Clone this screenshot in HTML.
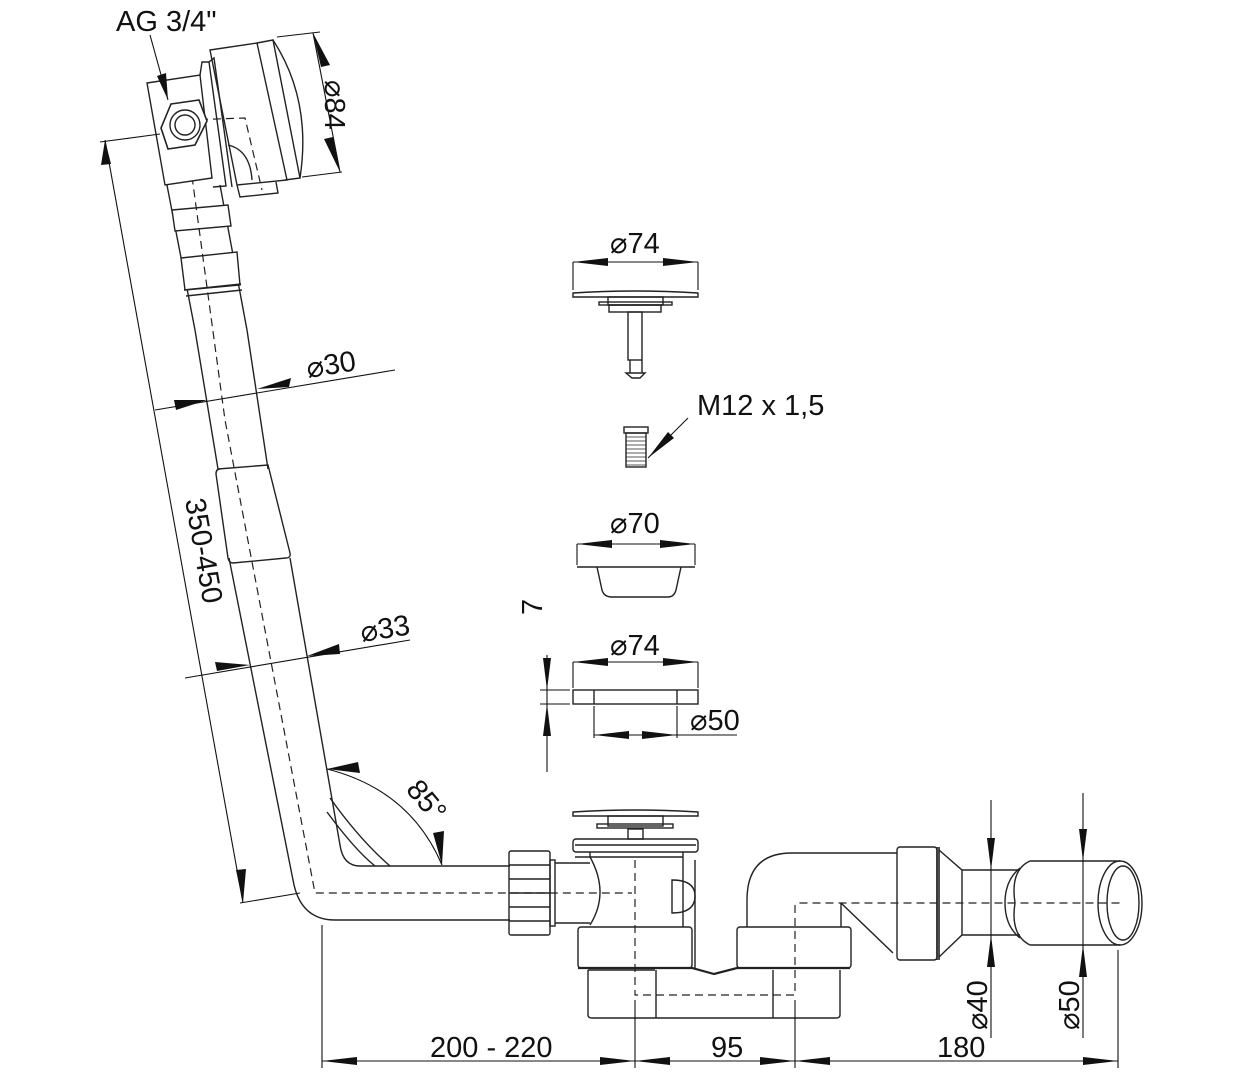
<!DOCTYPE html>
<html><head><meta charset="utf-8"><style>
html,body{margin:0;padding:0;background:#fff}
svg{display:block}
text{font-family:"Liberation Sans Narrow","Liberation Sans",sans-serif;fill:#111}
</style></head><body>
<svg width="1251" height="1077" viewBox="0 0 1251 1077" xmlns="http://www.w3.org/2000/svg">
<g fill="none" stroke="#222" stroke-width="1.4">
<!-- main pipe -->
<path d="M195,330 L166,180"/>
<path d="M247,330 L220,185"/>
<path d="M195,330 L218,469 M229,558 L293,880 Q300,920 335,920 L510,920"/>
<path d="M247,330 L268,469 M290,558 L340,845 Q343,866 360,866 L510,866"/>
<path d="M218,469 L268,465 L290,553 Q291,558 286,558 L233,563 Q229,563 228,558 L216,474 Q216,469 220,469 Z"/>
<!-- collars -->
<path d="M172,210 L228,205 L231,226 L175,231 Z" fill="#fff"/>
<path d="M181,258 L237,252 L240,285 L185,290 Z" fill="#fff"/>
<path d="M184,290 L241,284 M186,296 L242,290"/>
<!-- center dashed -->
<path d="M185,125 L225,420 L315,893 L632,893" stroke-dasharray="8,5" stroke-width="1.2"/>
<path d="M187,120 L245,118 L262,190" stroke-dasharray="8,5" stroke-width="1.2"/>
<!-- head -->
<path d="M147,83 L200,75 L212,178 L165,185 Z" fill="#fff"/>
<path d="M200,75 L202,62 L209,62 L226,186 L213,187"/>
<path d="M209,62 L214,58 L232,187"/>
<path d="M210,50 L257,43 L287,180 L237,185 Z"/>
<path d="M257,43 L273,40 L300,178 L285,180"/>
<path d="M273,40 Q312,100 300,178"/>
<path d="M237,185 L240,197 L278,193 L276,182"/>
<path d="M228,145 Q250,150 252,180"/>
<polygon points="171,104 199,100 207,121 195,145 168,149 161,128" stroke-width="1.6" fill="#fff"/>
<circle cx="185" cy="125" r="15"/>
<circle cx="185" cy="125" r="10"/>
<!-- 85 degree branch lines -->
<path d="M330,798 Q360,840 390,866 M327,812 Q355,850 375,866"/>
<!-- nut -->
<rect x="509" y="851" width="41" height="84" rx="2"/>
<path d="M509,865 H550 M509,879 H550 M509,893 H550 M509,907 H550 M509,921 H550"/>
<rect x="550" y="860" width="5" height="66"/>
<path d="M555,863 H590 M555,923 H590"/>
<!-- body -->
<path d="M573,812 Q635,808 698,812 L698,816 L573,816 Z"/>
<rect x="608" y="816" width="55" height="10"/>
<rect x="597" y="824" width="76" height="4"/>
<rect x="628" y="829" width="15" height="10"/>
<rect x="573" y="839" width="125" height="13" rx="3"/>
<path d="M575,845 H696"/>
<path d="M590,852 L590,857 Q610,893 590,925 M683,852 L683,927 M695,860 L695,968 M575,857 H683"/>
<path d="M672,880 Q695,880 695,896 Q695,913 672,913 Z"/>
<rect x="578" y="927" width="114" height="41" rx="3"/>
<path d="M578,968 L692,968 L714,974 L737,968 L850,968" stroke-width="2.2"/>
<path d="M588,970 H655 M588,970 L588,1015 Q588,1018 592,1018 L836,1018 Q840,1018 840,1015 L840,970 M656,970 V1018 M773,970 V1018"/>
<rect x="737" y="927" width="114" height="41" rx="3"/>
<path d="M747,927 L747,900 Q747,853 792,853 L897,853"/>
<path d="M841,903 L841,927 M841,903 L893,953"/>
<path d="M635,860 L635,995 L795,995 L795,906 Q795,903 800,903 L1120,903" stroke-dasharray="8,5" stroke-width="1.2"/>
<rect x="897" y="847" width="40" height="113" rx="3"/>
<path d="M937,847 L937,960 M939,847 L939,960" stroke-width="1.6"/>
<path d="M939,850 L962,870 L1020,870 M939,957 L962,935 L1020,935 M962,870 V935"/>
<path d="M1020,868 Q1005,880 1005,903 Q1005,926 1020,938"/>
<path d="M1030,861 L1120,861 M1030,945 L1120,945 M1030,861 Q1010,870 1015,903 Q1010,935 1030,945"/>
<ellipse cx="1120" cy="903" rx="22" ry="42"/>
<ellipse cx="1123" cy="903" rx="16" ry="37"/>
<!-- parts middle -->
<path d="M573,293 Q635,289 698,293 L698,297 L573,297 Z"/>
<rect x="608" y="297" width="55" height="8"/>
<rect x="599" y="302" width="73" height="3"/>
<rect x="609" y="305" width="52" height="7"/>
<rect x="628" y="312" width="14" height="48"/>
<path d="M630,360 L630,373 L642,373 L642,360 M626,373 L645,373 L640,378 L632,378 Z"/>
<rect x="624" y="427" width="24" height="6"/>
<rect x="626" y="433" width="20" height="34"/>
<path d="M626,437 H646 M626,441 H646 M626,445 H646 M626,449 H646 M626,453 H646 M626,457 H646 M626,461 H646 M626,465 H646" stroke-width="0.8"/>
<path d="M577,567 H695 M597,567 L602,590 Q604,597 612,597 L668,597 Q674,597 676,590 L681,567"/>
<rect x="573" y="690" width="125" height="14"/>
<path d="M594,690 V704 M677,690 V704"/>
</g>
<!-- dimensions -->
<g fill="none" stroke="#111" stroke-width="1.1">
<path d="M100,142 L160,134 M240,903 L300,893 M105,140 L243,903"/>
<path d="M155,410 L395,370 M185,678 L410,640"/>
<path d="M327,769 Q410,790 442,865"/>
<path d="M277,37 L320,32 M302,177 L342,172 M313,33 L340,172"/>
<path d="M150,35 L168,100"/>
<path d="M573,262 H698 M573,262 V290 M698,262 V290"/>
<path d="M577,544 H695 M577,544 V565 M695,544 V565"/>
<path d="M573,662 H698 M573,662 V688 M698,662 V688"/>
<path d="M594,706 V738 M677,706 V738 M594,735 H690 M677,735 L737,735"/>
<path d="M540,690 H570 M540,704 H570 M547,655 V772"/>
<path d="M648,458 L688,418"/>
<path d="M322,925 V1068 M635,1000 V1068 M795,1000 V1068 M1118,950 V1068 M322,1061 H1118"/>
<path d="M991,800 V1038 M1083,793 V1038"/>
</g>
<g fill="#111" stroke="none">
<polygon points="105,140 101,165 111,164"/>
<polygon points="243,903 236,870 246,869"/>
<polygon points="207,400 174,400 176,410"/>
<polygon points="257,389 291,378 289,387"/>
<polygon points="250,665 217,671 215,662"/>
<polygon points="307,656 339,644 340,654"/>
<polygon points="327,769 358,762 360,773"/>
<polygon points="442,865 433,833 444,831"/>
<polygon points="313,33 321,67 330,65"/>
<polygon points="340,172 324,139 333,137"/>
<polygon points="168,100 157,76 166,73"/>
<polygon points="573,262 608,258 608,266"/>
<polygon points="698,262 663,258 663,266"/>
<polygon points="577,544 612,540 612,548"/>
<polygon points="695,544 660,540 660,548"/>
<polygon points="573,662 608,658 608,666"/>
<polygon points="698,662 663,658 663,666"/>
<polygon points="594,735 629,731 629,739"/>
<polygon points="677,735 642,731 642,739"/>
<polygon points="547,690 543,658 551,658"/>
<polygon points="547,704 543,736 551,736"/>
<polygon points="648,458 668,432 674,438"/>
<polygon points="322,1061 357,1057 357,1065"/>
<polygon points="635,1061 600,1057 600,1065"/>
<polygon points="635,1061 670,1057 670,1065"/>
<polygon points="795,1061 760,1057 760,1065"/>
<polygon points="795,1061 830,1057 830,1065"/>
<polygon points="1118,1061 1083,1057 1083,1065"/>
<polygon points="991,870 987,838 995,838"/>
<polygon points="991,935 987,967 995,967"/>
<polygon points="1083,861 1079,829 1087,829"/>
<polygon points="1083,945 1079,977 1087,977"/>
</g>
<g font-size="29">
<text x="116" y="31">AG 3/4"</text>
<text x="610" y="253">⌀74</text>
<text x="697" y="415">M12 x 1,5</text>
<text x="610" y="533">⌀70</text>
<text x="610" y="655">⌀74</text>
<text x="690" y="730">⌀50</text>
<text x="430" y="1057">200 - 220</text>
<text x="711" y="1057">95</text>
<text x="937" y="1057">180</text>
<text transform="translate(542,615) rotate(-90)">7</text>
<text transform="translate(308,378) rotate(-9)">⌀30</text>
<text transform="translate(362,642) rotate(-9)">⌀33</text>
<text transform="translate(405,790) rotate(50)">85°</text>
<text transform="translate(185,500) rotate(80)">350-450</text>
<text transform="translate(325,80) rotate(90)">⌀84</text>
<text transform="translate(987,1030) rotate(-90)">⌀40</text>
<text transform="translate(1079,1030) rotate(-90)">⌀50</text>
</g>
</svg>
</body></html>
